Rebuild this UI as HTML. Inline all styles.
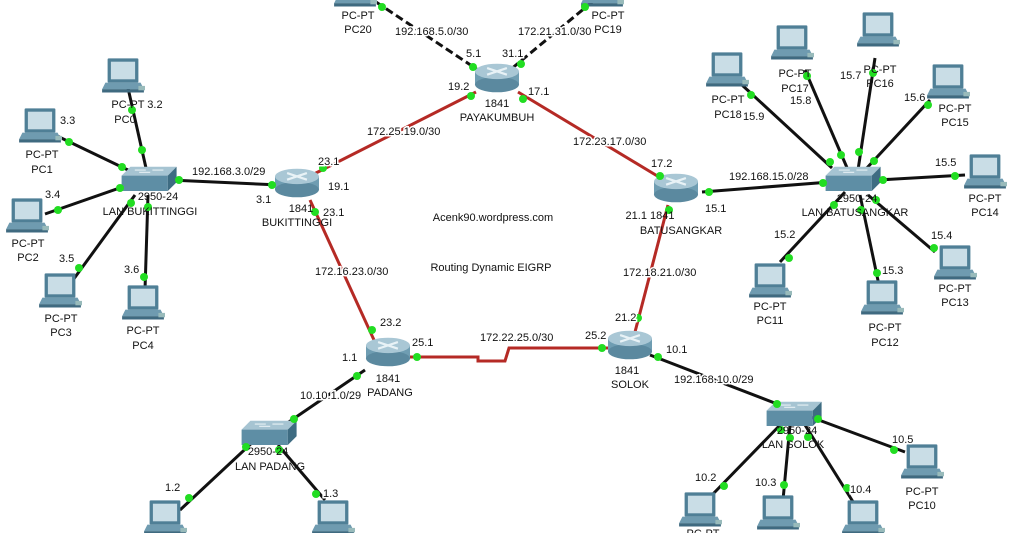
<!DOCTYPE html>
<html><head><meta charset="utf-8"><style>
html,body{margin:0;padding:0;background:#fff;}
svg{display:block;font-family:"Liberation Sans",sans-serif;font-size:11px;}
text{fill:#111;}
.l{paint-order:stroke;stroke:#fff;stroke-width:3px;}
</style></head><body>
<svg width="1014" height="533" viewBox="0 0 1014 533" xmlns="http://www.w3.org/2000/svg">
<defs>
<g id="pc" transform="scale(1.1)">
<rect x="-14" y="-16" width="28" height="22" rx="1" fill="#4f7f96"/>
<rect x="-11" y="-13" width="22" height="16" fill="#c9dde6"/>
<polygon points="-16,6 16,6 19,12 -19,12" fill="#6f9bb0"/>
<rect x="-19" y="12" width="38" height="3" fill="#3f6a80"/>
<rect x="14" y="9" width="6" height="4" fill="#9bb" />
</g>
<g id="rt" transform="scale(1.1)">
<rect x="-20" y="-6" width="40" height="12" fill="#6f9db2"/>
<ellipse cx="0" cy="6" rx="20" ry="7" fill="#5b899f"/>
<ellipse cx="0" cy="-6" rx="20" ry="7" fill="#a9c7d5"/>
<path d="M-9,-9 L9,-3 M9,-9 L-9,-3" stroke="#e8f2f6" stroke-width="2"/>
</g>
<g id="sw" transform="scale(1.1)">
<polygon points="-24,-4 -16,-12 26,-12 18,-4" fill="#a6c4d2"/>
<rect x="-24" y="-4" width="42" height="14" fill="#5e8ea5"/>
<polygon points="18,-4 26,-12 26,2 18,10" fill="#3e6c82"/>
<path d="M-12,-9 h10 M4,-9 h10 M-8,-7 h10" stroke="#e6f0f4" stroke-width="1"/>
</g>
</defs>

<g stroke="#b52a25" stroke-width="3" fill="none">
<line x1="476" y1="92" x2="312" y2="175"/>
<line x1="518" y1="92" x2="664" y2="180"/>
<line x1="310" y1="200" x2="374" y2="340"/>
<line x1="668" y1="205" x2="635" y2="332"/>
<polyline points="410,357 478,357 478,361 505,361 509,348 612,348"/>
</g>
<g stroke="#111" stroke-width="3" stroke-dasharray="8,4">
<line x1="376" y1="2" x2="478" y2="70"/>
<line x1="592" y1="2" x2="510" y2="70"/>
</g>
<g stroke="#111" stroke-width="3">
<line x1="128" y1="88" x2="146" y2="168"/>
<line x1="55" y1="135" x2="128" y2="170"/>
<line x1="45" y1="214" x2="128" y2="185"/>
<line x1="73" y1="280" x2="135" y2="195"/>
<line x1="145" y1="290" x2="148" y2="195"/>
<line x1="170" y1="180" x2="280" y2="185"/>
<line x1="702" y1="192" x2="830" y2="182"/>
<line x1="742" y1="85" x2="832" y2="168"/>
<line x1="805" y1="70" x2="848" y2="170"/>
<line x1="875" y1="58" x2="858" y2="170"/>
<line x1="930" y1="100" x2="865" y2="170"/>
<line x1="965" y1="175" x2="878" y2="180"/>
<line x1="935" y1="252" x2="868" y2="195"/>
<line x1="880" y1="290" x2="860" y2="195"/>
<line x1="780" y1="262" x2="845" y2="192"/>
<line x1="650" y1="355" x2="785" y2="407"/>
<line x1="905" y1="452" x2="808" y2="416"/>
<line x1="712" y1="495" x2="783" y2="422"/>
<line x1="783" y1="500" x2="790" y2="425"/>
<line x1="855" y1="505" x2="805" y2="425"/>
<line x1="365" y1="370" x2="280" y2="428"/>
<line x1="180" y1="510" x2="255" y2="440"/>
<line x1="325" y1="500" x2="278" y2="445"/>
</g>

<use href="#rt" x="497" y="78"/>
<use href="#rt" x="297" y="183"/>
<use href="#rt" x="676" y="188"/>
<use href="#rt" x="388" y="352"/>
<use href="#rt" x="630" y="345"/>
<use href="#sw" x="148" y="180"/>
<use href="#sw" x="852" y="180"/>
<use href="#sw" x="268" y="434"/>
<use href="#sw" x="793" y="415"/>

<use href="#pc" x="123" y="76"/>
<use href="#pc" x="40" y="126"/>
<use href="#pc" x="27" y="216"/>
<use href="#pc" x="60" y="291"/>
<use href="#pc" x="143" y="303"/>
<use href="#pc" x="355" y="-10"/>
<use href="#pc" x="602" y="-10"/>
<use href="#pc" x="727" y="70"/>
<use href="#pc" x="792" y="43"/>
<use href="#pc" x="878" y="30"/>
<use href="#pc" x="948" y="82"/>
<use href="#pc" x="985" y="172"/>
<use href="#pc" x="955" y="263"/>
<use href="#pc" x="882" y="298"/>
<use href="#pc" x="770" y="281"/>
<use href="#pc" x="922" y="462"/>
<use href="#pc" x="165" y="518"/>
<use href="#pc" x="333" y="518"/>
<use href="#pc" x="700" y="510"/>
<use href="#pc" x="778" y="513"/>
<use href="#pc" x="863" y="518"/>

<g fill="#22dd22">
<circle cx="132" cy="110" r="4"/><circle cx="142" cy="150" r="4"/>
<circle cx="69" cy="142" r="4"/><circle cx="122" cy="167" r="4"/>
<circle cx="58" cy="210" r="4"/><circle cx="120" cy="188" r="4"/>
<circle cx="79" cy="268" r="4"/><circle cx="131" cy="203" r="4"/>
<circle cx="144" cy="277" r="4"/><circle cx="148" cy="207" r="4"/>
<circle cx="179" cy="180" r="4"/><circle cx="272" cy="185" r="4"/>
<circle cx="709" cy="192" r="4"/><circle cx="823" cy="183" r="4"/>
<circle cx="751" cy="95" r="4"/><circle cx="830" cy="162" r="4"/>
<circle cx="807" cy="76" r="4"/><circle cx="841" cy="155" r="4"/>
<circle cx="873" cy="73" r="4"/><circle cx="859" cy="152" r="4"/>
<circle cx="928" cy="105" r="4"/><circle cx="874" cy="161" r="4"/>
<circle cx="955" cy="176" r="4"/><circle cx="883" cy="180" r="4"/>
<circle cx="934" cy="248" r="4"/><circle cx="876" cy="200" r="4"/>
<circle cx="877" cy="273" r="4"/><circle cx="861" cy="210" r="4"/>
<circle cx="789" cy="258" r="4"/><circle cx="834" cy="205" r="4"/>
<circle cx="658" cy="357" r="4"/><circle cx="777" cy="404" r="4"/>
<circle cx="894" cy="450" r="4"/><circle cx="818" cy="419" r="4"/>
<circle cx="724" cy="486" r="4"/><circle cx="781" cy="430" r="4"/>
<circle cx="784" cy="485" r="4"/><circle cx="790" cy="438" r="4"/>
<circle cx="847" cy="488" r="4"/><circle cx="808" cy="437" r="4"/>
<circle cx="357" cy="376" r="4"/><circle cx="294" cy="419" r="4"/>
<circle cx="189" cy="498" r="4"/><circle cx="246" cy="447" r="4"/>
<circle cx="316" cy="494" r="4"/><circle cx="279" cy="450" r="4"/>
<circle cx="473" cy="67" r="4"/><circle cx="521" cy="64" r="4"/>
<circle cx="382" cy="7" r="4"/><circle cx="585" cy="7" r="4"/>
<circle cx="471" cy="96" r="4"/><circle cx="323" cy="168" r="4"/>
<circle cx="523" cy="99" r="4"/><circle cx="660" cy="176" r="4"/>
<circle cx="315" cy="212" r="4"/><circle cx="372" cy="330" r="4"/>
<circle cx="669" cy="210" r="4"/><circle cx="638" cy="318" r="4"/>
<circle cx="417" cy="357" r="4"/><circle cx="602" cy="348" r="4"/>
</g>

<g text-anchor="middle">
<text x="497" y="107">1841</text><text x="497" y="121">PAYAKUMBUH</text>
<text x="301" y="212">1841</text><text x="297" y="226">BUKITTINGGI</text>
<text x="650" y="219">21.1 1841</text><text x="681" y="234">BATUSANGKAR</text>
<text x="388" y="382">1841</text><text x="390" y="396">PADANG</text>
<text x="627" y="374">1841</text><text x="630" y="388">SOLOK</text>
<text x="158" y="200">2950-24</text><text x="150" y="215">LAN BUKITTINGGI</text>
<text x="857" y="202">2950-24</text><text x="855" y="216">LAN BATUSANGKAR</text>
<text x="268" y="455">2950-24</text><text x="270" y="470">LAN PADANG</text>
<text x="797" y="434">2950-24</text><text x="793" y="448">LAN SOLOK</text>
<text x="137" y="108">PC-PT 3.2</text><text x="125" y="123">PC0</text>
<text x="42" y="158">PC-PT</text><text x="42" y="173">PC1</text>
<text x="28" y="247">PC-PT</text><text x="28" y="261">PC2</text>
<text x="61" y="322">PC-PT</text><text x="61" y="336">PC3</text>
<text x="143" y="334">PC-PT</text><text x="143" y="349">PC4</text>
<text x="358" y="19">PC-PT</text><text x="358" y="33">PC20</text>
<text x="608" y="19">PC-PT</text><text x="608" y="33">PC19</text>
<text x="728" y="103">PC-PT</text><text x="728" y="118">PC18</text>
<text x="795" y="77">PC-PT</text><text x="795" y="92">PC17</text>
<text x="880" y="73">PC-PT</text><text x="880" y="87">PC16</text>
<text x="955" y="112">PC-PT</text><text x="955" y="126">PC15</text>
<text x="985" y="202">PC-PT</text><text x="985" y="216">PC14</text>
<text x="955" y="292">PC-PT</text><text x="955" y="306">PC13</text>
<text x="885" y="331">PC-PT</text><text x="885" y="346">PC12</text>
<text x="770" y="310">PC-PT</text><text x="770" y="324">PC11</text>
<text x="922" y="495">PC-PT</text><text x="922" y="509">PC10</text>
<text x="703" y="537">PC-PT</text>
<text x="493" y="221">Acenk90.wordpress.com</text>
<text x="491" y="271">Routing Dynamic EIGRP</text>
</g>

<g class="l">
<text x="395" y="35">192.168.5.0/30</text>
<text x="518" y="35">172.21.31.0/30</text>
<text x="466" y="57">5.1</text><text x="502" y="57">31.1</text>
<text x="448" y="90">19.2</text><text x="528" y="95">17.1</text>
<text x="367" y="135">172.25.19.0/30</text>
<text x="573" y="145">172.23.17.0/30</text>
<text x="318" y="165">23.1</text><text x="328" y="190">19.1</text>
<text x="256" y="203">3.1</text><text x="323" y="216">23.1</text>
<text x="192" y="175">192.168.3.0/29</text>
<text x="60" y="124">3.3</text><text x="45" y="198">3.4</text>
<text x="59" y="262">3.5</text><text x="124" y="273">3.6</text>
<text x="651" y="167">17.2</text><text x="705" y="212">15.1</text>
<text x="729" y="180">192.168.15.0/28</text>
<text x="743" y="120">15.9</text><text x="790" y="104">15.8</text>
<text x="840" y="79">15.7</text><text x="904" y="101">15.6</text>
<text x="935" y="166">15.5</text><text x="931" y="239">15.4</text>
<text x="882" y="274">15.3</text><text x="774" y="238">15.2</text>
<text x="315" y="275">172.16.23.0/30</text>
<text x="623" y="276">172.18.21.0/30</text>
<text x="380" y="326">23.2</text><text x="615" y="321">21.2</text>
<text x="412" y="346">25.1</text><text x="585" y="339">25.2</text>
<text x="480" y="341">172.22.25.0/30</text>
<text x="342" y="361">1.1</text><text x="666" y="353">10.1</text>
<text x="674" y="383">192.168.10.0/29</text>
<text x="300" y="399">10.10.1.0/29</text>
<text x="165" y="491">1.2</text><text x="323" y="497">1.3</text>
<text x="892" y="443">10.5</text><text x="695" y="481">10.2</text>
<text x="755" y="486">10.3</text><text x="850" y="493">10.4</text>
</g>
</svg>
</body></html>
